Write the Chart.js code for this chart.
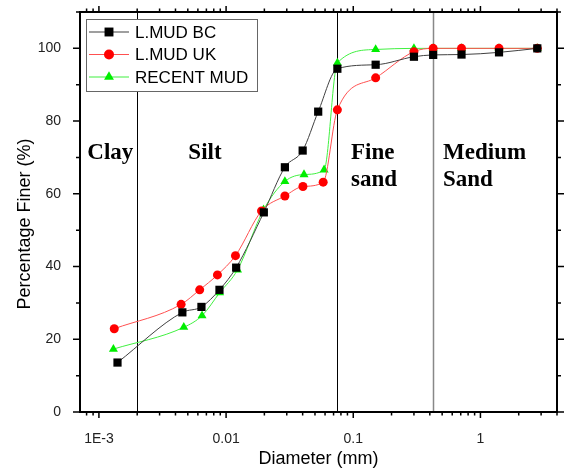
<!DOCTYPE html>
<html><head><meta charset="utf-8">
<script src="https://cdn.jsdelivr.net/npm/chart.js@4"></script>
<style>html,body{margin:0;padding:0;background:#fff;}canvas{display:block}</style>
</head><body><canvas id="c" width="568" height="470"></canvas>
<script>
// ---- data ----
const bcDiameter = [0.0014, 0.00453, 0.0064, 0.00887, 0.012, 0.0198, 0.029, 0.040, 0.053, 0.075, 0.15, 0.3, 0.425, 0.71, 1.4, 2.8];
const bcFiner    = [13.6, 27.4, 28.9, 33.6, 39.7, 54.9, 67.3, 71.9, 82.6, 94.4, 95.5, 97.7, 98.2, 98.3, 98.9, 100];
const ukDiameter = [0.00132, 0.00443, 0.0062, 0.00855, 0.01185, 0.019, 0.029, 0.0402, 0.058, 0.075, 0.15, 0.3, 0.425, 0.71, 1.4, 2.8];
const ukFiner    = [22.9, 29.6, 33.6, 37.7, 43.0, 55.3, 59.4, 62.0, 63.2, 83.1, 91.9, 99.1, 100, 100, 100, 100];
const recentDiameter = [0.0013, 0.00465, 0.00647, 0.0089, 0.0123, 0.0197, 0.029, 0.041, 0.059, 0.075, 0.15, 0.3, 0.425, 0.71, 1.4, 2.8];
const recentFiner    = [17.3, 23.3, 26.5, 32.8, 39.1, 55.6, 63.4, 65.3, 66.6, 96.0, 99.7, 100, 100, 100, 100, 100];
const seriesNames = ['L.MUD BC', 'L.MUD UK', 'RECENT MUD'];
const xTickValues = [0.001, 0.01, 0.1, 1];
const xTickLabels = ['1E-3', '0.01', '0.1', '1'];
const yTickValues = [0, 20, 40, 60, 80, 100];
const classBounds = [0.002, 0.075, 0.425];
const classNames = [['Clay'], ['Silt'], ['Fine', 'sand'], ['Medium', 'Sand']];
const xTitle = 'Diameter (mm)';
const yTitle = 'Percentage Finer (%)';

// ---- styling ----
const classLabelX = [0.00081, 0.00505, 0.096, 0.508];
const classLabelY = [69.6, 62.2];
const boundColors = ['#000', '#000', '#888'];

const pts = (xs, ys) => xs.map((x, i) => ({x, y: ys[i]}));

const datasets = [
  {label: seriesNames[0], data: pts(bcDiameter, bcFiner), borderColor: '#404040', backgroundColor: '#000',
   pointStyle: 'rect', pointRadius: 5.8, pointBorderColor: '#000'},
  {label: seriesNames[1], data: pts(ukDiameter, ukFiner), borderColor: '#ff5050', backgroundColor: '#ff0000',
   pointStyle: 'circle', pointRadius: 4.5, pointBorderColor: '#ff0000'},
  {label: seriesNames[2], data: pts(recentDiameter, recentFiner), borderColor: '#40f040', backgroundColor: '#00ee00',
   pointStyle: 'triangle', pointRadius: 5.2, pointBorderColor: '#00ee00'}
].map(d => Object.assign(d, {borderWidth: 1, pointBorderWidth: 0, cubicInterpolationMode: 'monotone', fill: false, showLine: true}));

const decor = {
  id: 'decor',
  beforeDatasetsDraw(chart) {
    const {ctx, chartArea: a, scales: {x}} = chart;
    ctx.save();
    classBounds.forEach((v, i) => {
      const px = Math.round(x.getPixelForValue(v)) + 0.5;
      ctx.strokeStyle = boundColors[i];
      ctx.lineWidth = i === 2 ? 1.5 : 1;
      ctx.beginPath(); ctx.moveTo(px, a.top); ctx.lineTo(px, a.bottom); ctx.stroke();
    });
    ctx.restore();
  },
  afterDatasetsDraw(chart) {
    const {ctx, chartArea: a, scales: {x, y}} = chart;
    ctx.save();
    // region labels
    ctx.fillStyle = '#000';
    ctx.font = 'bold 23px "Liberation Serif", "Times New Roman", serif';
    ctx.textAlign = 'left'; ctx.textBaseline = 'alphabetic';
    classNames.forEach((lines, i) => {
      lines.forEach((t, j) => ctx.fillText(t, x.getPixelForValue(classLabelX[i]), y.getPixelForValue(classLabelY[j])));
    });
    // frame
    ctx.strokeStyle = '#000'; ctx.lineWidth = 2;
    ctx.strokeRect(a.left, a.top, a.right - a.left, a.bottom - a.top);
    // x ticks
    const xmin = x.min, xmax = x.max;
    ctx.lineWidth = 1.5;
    for (let e = -4; e <= 1; e++) {
      for (let m = 1; m <= 9; m++) {
        const v = m * Math.pow(10, e);
        if (v < xmin || v > xmax) continue;
        const px = x.getPixelForValue(v);
        const len = m === 1 ? 6 : 3.5;
        ctx.beginPath();
        ctx.moveTo(px, a.bottom); ctx.lineTo(px, a.bottom + len);
        ctx.moveTo(px, a.top); ctx.lineTo(px, a.top - len);
        ctx.stroke();
      }
    }
    // y ticks
    for (let v = 0; v <= 110; v += 10) {
      const py = y.getPixelForValue(v);
      const len = v % 20 === 0 ? 7 : 4;
      ctx.beginPath();
      ctx.moveTo(a.left, py); ctx.lineTo(a.left - len, py);
      ctx.moveTo(a.right, py); ctx.lineTo(a.right + len, py);
      ctx.stroke();
    }
    // y title
    ctx.save();
    ctx.translate(25, (a.top + a.bottom) / 2 + 12);
    ctx.rotate(-Math.PI / 2);
    ctx.font = '18px "Liberation Sans", Arial, sans-serif';
    ctx.fillStyle = '#000'; ctx.textAlign = 'center'; ctx.textBaseline = 'middle';
    ctx.fillText(yTitle, 0, 0);
    ctx.restore();
    // legend
    const lx = a.left + 6, ly = a.top + 7, lw = 171, lh = 72;
    ctx.fillStyle = '#fff';
    ctx.fillRect(lx, ly, lw, lh);
    ctx.strokeStyle = '#666'; ctx.lineWidth = 1;
    ctx.strokeRect(lx + 0.5, ly + 0.5, lw, lh);
    chart.data.datasets.forEach((ds, i) => {
      const cy = ly + 13 + i * 22.5;
      ctx.strokeStyle = ds.borderColor; ctx.lineWidth = 1.2;
      ctx.beginPath(); ctx.moveTo(lx + 3, cy); ctx.lineTo(lx + 43, cy); ctx.stroke();
      ctx.fillStyle = ds.backgroundColor; ctx.strokeStyle = ds.pointBorderColor;
      Chart.helpers.drawPoint(ctx, {pointStyle: ds.pointStyle, radius: ds.pointRadius + 0.5, rotation: 0, borderWidth: 0}, lx + 23, cy);
      ctx.fillStyle = '#000';
      ctx.font = '17px "Liberation Sans", Arial, sans-serif';
      ctx.textAlign = 'left'; ctx.textBaseline = 'middle';
      ctx.fillText(ds.label, lx + 49, cy + 1);
    });
    ctx.restore();
  }
};

new Chart(document.getElementById('c'), {
  type: 'scatter',
  data: {datasets},
  options: {
    responsive: false,
    animation: false,
    devicePixelRatio: 1,
    layout: {padding: {top: 12, right: 11, left: 0, bottom: 0}},
    plugins: {legend: {display: false}, tooltip: {enabled: false}},
    scales: {
      x: {
        type: 'logarithmic', min: 0.00071, max: 4.0,
        grid: {display: false}, border: {display: false},
        afterBuildTicks: s => { s.ticks = xTickValues.map(v => ({value: v, major: true})); },
        afterFit: s => { s.height = 58; s.paddingLeft = 0; s.paddingRight = 0; },
        ticks: {autoSkip: false, maxRotation: 0, padding: 11, color: '#222',
                font: {family: '"Liberation Sans", Arial, sans-serif', size: 14},
                callback: (v, i) => xTickLabels[i]},
        title: {display: true, text: xTitle, color: '#000', padding: {top: 0, bottom: 0},
                font: {family: '"Liberation Sans", Arial, sans-serif', size: 18}}
      },
      y: {
        min: 0, max: 110,
        grid: {display: false}, border: {display: false},
        afterBuildTicks: s => { s.ticks = yTickValues.map(v => ({value: v})); },
        afterFit: s => { s.width = 80; s.paddingTop = 0; s.paddingBottom = 0; },
        ticks: {padding: 11, color: '#222',
                font: {family: '"Liberation Sans", Arial, sans-serif', size: 14}}
      }
    }
  },
  plugins: [decor]
});
</script>
</body></html>
